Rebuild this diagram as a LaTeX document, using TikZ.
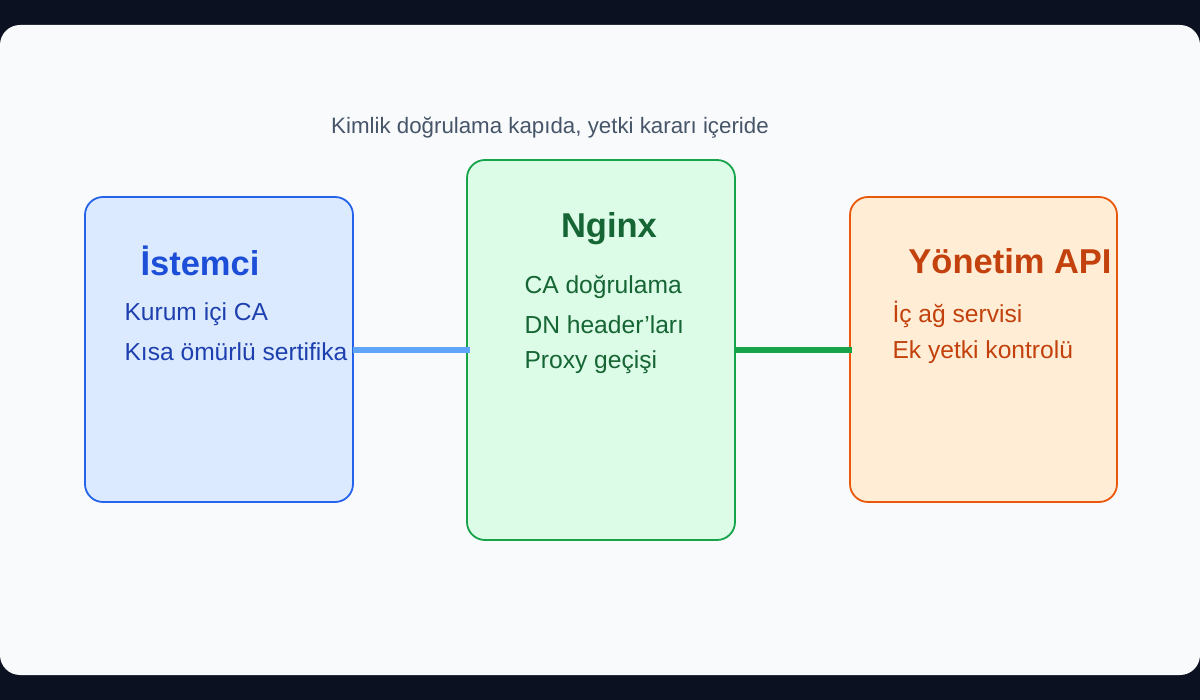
\documentclass[tikz,border=0pt]{standalone}
\usepackage{fontspec}
\setmainfont{Liberation Sans}
\definecolor{darkbg}{HTML}{0B1120}
\definecolor{panel}{HTML}{F8FAFC}
\definecolor{bfill}{HTML}{DBEAFE}\definecolor{bdraw}{HTML}{2563EB}\definecolor{btxt}{HTML}{1D4ED8}\definecolor{btxt2}{HTML}{1E40AF}
\definecolor{gfill}{HTML}{DCFCE7}\definecolor{gdraw}{HTML}{16A34A}\definecolor{gtxt}{HTML}{166534}
\definecolor{ofill}{HTML}{FFEDD5}\definecolor{odraw}{HTML}{EA580C}\definecolor{otxt}{HTML}{C2410C}
\definecolor{cap}{HTML}{475569}\definecolor{bline}{HTML}{60A5FA}
\begin{document}
\begin{tikzpicture}[x=1pt,y=-1pt,
  box/.style={rounded corners=18pt,line width=1.8pt},
  ttl/.style={font=\fontsize{34.5}{40}\selectfont\bfseries,anchor=center},
  item/.style={font=\fontsize{24.6}{28}\selectfont,anchor=west}]
\fill[darkbg] (0,0) rectangle (1200,700);
\fill[panel,rounded corners=20pt] (0,25) rectangle (1200,675);
\node[font=\fontsize{22.3}{26}\selectfont,text=cap] (cap) at (550,128) {Kimlik doğrulama kapıda, yetki kararı içeride};
\draw[box,fill=bfill,draw=bdraw] (85,197) rectangle (353,502);
\node[ttl,text=btxt] (t1) at (200,261) {İstemci};
\node[item,text=btxt2] (a1) at (121,314) {Kurum içi CA};
\node[item,text=btxt2] (a2) at (121,352) {Kısa ömürlü sertifika};
\draw[box,fill=gfill,draw=gdraw] (467,160) rectangle (735,540);
\node[ttl,text=gtxt] (t2) at (609,229) {Nginx};
\node[item,text=gtxt] (b1) at (521,287) {CA doğrulama};
\node[item,text=gtxt] (b2) at (521,325) {DN header{\char"27}ları};
\node[item,text=gtxt] (b3) at (521,362) {Proxy geçişi};
\draw[box,fill=ofill,draw=odraw] (850,197) rectangle (1117,502);
\node[ttl,text=otxt] (t3) at (1010,261) {Yönetim API};
\node[item,text=otxt] (c1) at (889,314) {İç ağ servisi};
\node[item,text=otxt] (c2) at (889,352) {Ek yetki kontrolü};
\coordinate (l1) at (353,350); \coordinate (l2) at (470,350);
\coordinate (r1) at (735,350); \coordinate (r2) at (852,350);
\draw[bline,line width=6pt] (l1) -- (l2);
\draw[gdraw,line width=6pt] (r1) -- (r2);
\end{tikzpicture}
\end{document}
